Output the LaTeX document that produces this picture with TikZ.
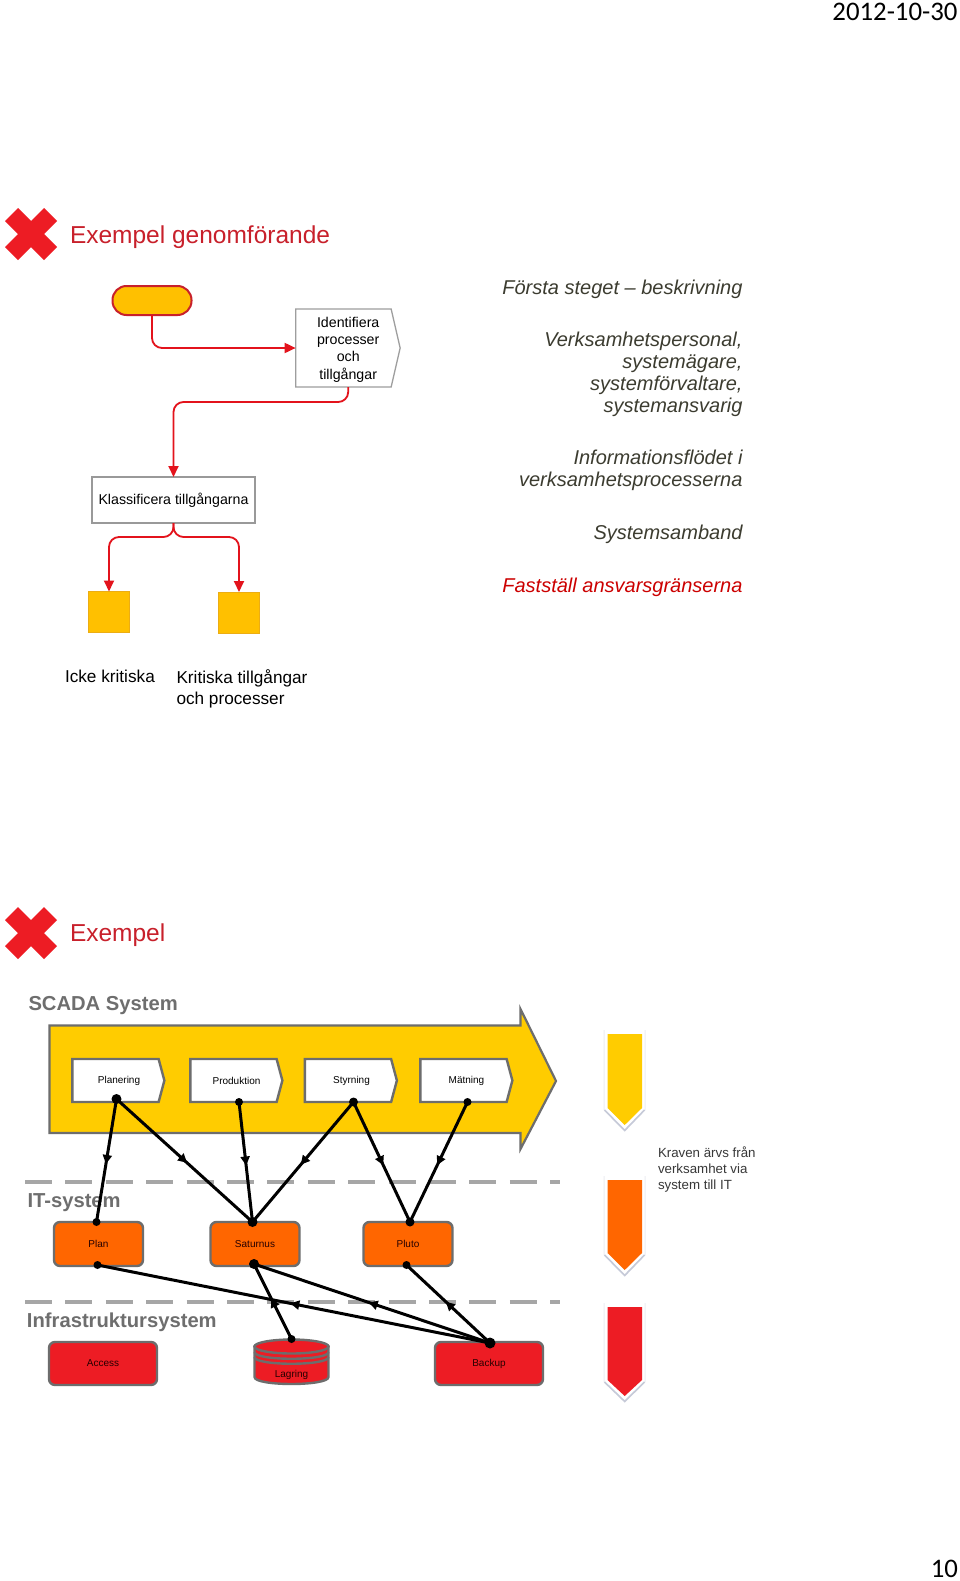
\documentclass[tikz,border=0pt]{standalone}
\usepackage{fontspec}
\setmainfont{Liberation Sans}
\newfontfamily\slidefont{Carlito}
\usetikzlibrary{arrows.meta,shapes.symbols,decorations.markings,calc}
\definecolor{redline}{HTML}{E3131C}
\definecolor{redtitle}{HTML}{C8202B}
\definecolor{gold}{HTML}{FFC000}
\definecolor{yell}{HTML}{FFCC00}
\definecolor{oran}{HTML}{FF6600}
\definecolor{redfill}{HTML}{ED1C24}
\definecolor{edgegray}{HTML}{6D6D6D}
\definecolor{olive}{HTML}{3C3C30}
\definecolor{headgray}{HTML}{6E6E6E}
\definecolor{dashgray}{HTML}{A6A6A6}
\definecolor{shadowc}{HTML}{C6CAD8}
\definecolor{glowc}{HTML}{ECEDF2}
\newcommand{\fs}[2]{\fontsize{#1}{#2}\selectfont}
\tikzset{
  txt/.style={inner sep=0pt,outer sep=0pt},
  title/.style={txt,anchor=base west,text=redtitle,font=\fs{24.5}{28}},
  rtxt/.style={txt,anchor=north east,align=right,text=olive,font=\fs{20}{22}\itshape},
  sect/.style={txt,anchor=base west,text=headgray,font=\fs{20.2}{24}\bfseries},
  blk/.style={txt,anchor=base west,text=black,font=\fs{17.2}{21},align=left},
  redconn/.style={draw=redline,line width=1.8pt,rounded corners=10pt,-{Triangle[length=11pt,width=10pt]}},
  pent/.style={shape=signal,signal to=east,signal from=nowhere,signal pointer angle=#1,inner sep=0pt,outer sep=0pt,align=center},
  procb/.style={pent=150,draw=edgegray,line width=2.4pt,fill=white,minimum width=92pt,minimum height=43pt},
  small/.style={txt,font=\fs{10}{12},text=black},
  smallred/.style={txt,font=\fs{10}{12},text=black!85!red},
  sysb/.style={draw=edgegray,line width=2.4pt,rounded corners=6pt,inner sep=0pt,outer sep=0pt,minimum height=44pt,font=\fs{10}{12},text=black!85!red},
  dotn/.style={circle,fill=black,inner sep=0pt,outer sep=0pt,minimum size=#1},
  dotn/.default=8pt,
  conn/.style={draw=black,line width=3pt,postaction={decorate},
    decoration={markings,mark=at position 0.5 with {\arrow[xshift=3.5pt]{Triangle[length=9pt,width=9pt]}}}},
  sepl/.style={draw=dashgray,line width=3.6pt,dash pattern=on 27pt off 13.4pt},
  sqbox/.style={draw=gold!70!brown,fill=gold,line width=.7pt,minimum width=40.5pt,minimum height=41pt,inner sep=0pt,outer sep=0pt},
}
\begin{document}
\begin{tikzpicture}[x=1pt,y=-1pt]
\useasboundingbox (0,0) rectangle (960,1581);
\fill[white] (0,0) rectangle (960,1581);
% header / footer
\node[txt,anchor=base east,font=\slidefont\fs{26.8}{30}] (date) at (957.5,21) {2012-10-30};
\node[txt,anchor=base east,font=\slidefont\fs{26.8}{30}] (page) at (958,1577) {10};
% X marks
\foreach \cy in {234,933}{
 \fill[redfill] (31,\cy) ++(0,-13) -- ++(13,-13) -- ++(13,13) -- ++(-13,13) -- ++(13,13) -- ++(-13,13) -- ++(-13,-13) -- ++(-13,13) -- ++(-13,-13) -- ++(13,-13) -- ++(-13,-13) -- ++(13,-13) -- cycle;
}
\node[title] (t1) at (70,243) {Exempel genomförande};
\node[title] (t2) at (70,941) {Exempel};
% upper flow
\node[draw=redtitle,fill=gold,line width=2pt,rounded corners=14pt,minimum width=79pt,minimum height=29pt,inner sep=0pt,outer sep=0pt] (start) at (152,300.5) {};
\node[pent=154,draw=black!38,line width=1.3pt,fill=white,minimum width=104.5pt,minimum height=78pt] (ident) at (343.4,348) {};
\node[txt,align=center,font=\fs{14.2}{17.3}] (identtxt) at (348.2,349.5) {Identifiera\\processer\\och\\tillgångar};
\node[draw=black!40,fill=white,line width=2pt,minimum width=163pt,minimum height=46pt,inner sep=0pt,outer sep=0pt,font=\fs{14.2}{17}] (klass) at (173.5,500) {Klassificera tillgångarna};
\node[sqbox] (sq1) at (109,612) {};
\node[sqbox] (sq2) at (239,612.5) {};
\draw[redconn] (start.south) |- (ident.west);
\draw[redconn] (identtxt.center |- ident.south) -- ++(0,15) -| (klass.north);
\draw[redconn] (klass.south) -- ++(0,14) -| (sq1.north);
\draw[redconn] (klass.south) -- ++(0,14) -| (sq2.north);
\node[blk] (ik) at (65,682) {Icke kritiska};
\node[blk,anchor=north west] (kt) at (176.5,669.5) {Kritiska tillgångar\\och processer};
% right column
\node[rtxt] (r1) at (742.5,280) {Första steget – beskrivning};
\node[rtxt] (r2) at (742.5,332) {Verksamhetspersonal,\\systemägare,\\systemförvaltare,\\systemansvarig};
\node[rtxt] (r3) at (742.5,450) {Informationsflödet i\\verksamhetsprocesserna};
\node[rtxt] (r4) at (742.5,525) {Systemsamband};
\node[rtxt,text=red!80!black] (r5) at (742.5,578) {Fastställ ansvarsgränserna};
% lower diagram
\node[sect] (h1) at (28.5,1010) {SCADA System};
\draw[sepl] (25,1182) -- (560,1182);
\draw[sepl] (25,1302) -- (560,1302);
\draw[draw=edgegray,fill=yell,line width=2.2pt,line join=miter] (49.5,1025.5) -- (520.5,1025.5) -- (520.5,1009) -- (556,1081) -- (520.5,1149) -- (520.5,1133) -- (49.5,1133) -- cycle;
\node[procb] (pa) at (115.5,1080.5) {};
\node[procb] (pb) at (233.5,1080.5) {};
\node[procb] (pc) at (348,1080.5) {};
\node[procb] (pd) at (463.5,1080.5) {};
\node[small] (pat) at (119,1081) {Planering};
\node[small] (pbt) at (236.5,1081) {Produktion};
\node[small] (pct) at (351.5,1081) {Styrning};
\node[small] (pdt) at (466.5,1081) {Mätning};
\node[sect] (h2) at (27.5,1207) {IT-system};
\node[sect] (h3) at (27,1327) {Infrastruktursystem};
\node[sysb,fill=oran,minimum width=89pt] (plan) at (98.5,1244) {Plan};
\node[sysb,fill=oran,minimum width=89pt] (sat) at (255,1244) {Saturnus};
\node[sysb,fill=oran,minimum width=89pt] (pluto) at (408,1244) {Pluto};
\node[sysb,fill=redfill,minimum width=108pt,minimum height=43pt] (acc) at (103,1363.5) {Access};
\node[sysb,fill=redfill,minimum width=108pt,minimum height=43pt] (back) at (489,1363.5) {Backup};
% storage drum
\draw[draw=edgegray,fill=redfill,line width=2.4pt] (254.5,1346.5) -- (254.5,1377) .. controls (254.5,1386.3) and (328.5,1386.3) .. (328.5,1377) -- (328.5,1346.5) -- cycle;
\foreach \yy in {1352,1357}{
 \draw[draw=edgegray,line width=2.4pt] (254.5,\yy) .. controls (254.5,\yy+9) and (328.5,\yy+9) .. (328.5,\yy);
}
\draw[draw=edgegray,fill=redfill,line width=2.4pt] (291.5,1346.5) ellipse[x radius=37,y radius=7];
\node[smallred] (lag) at (291.5,1375) {Lagring};
% endpoints
\node[dotn=10pt] (a1) at (116.5,1099) {};
\node[dotn] (a2) at (239,1102) {};
\node[dotn=9pt] (a3) at (353.5,1102) {};
\node[dotn] (a4) at (467.5,1102) {};
\node[dotn] (b1) at (96.5,1222) {};
\node[dotn=10pt] (b2) at (252.5,1222) {};
\node[dotn=9pt] (b3) at (410,1222) {};
\node[dotn] (c1) at (97.5,1265) {};
\node[dotn=10pt] (c2) at (254,1264) {};
\node[dotn] (c3) at (406.5,1265) {};
\node[dotn] (d1) at (291.5,1339) {};
\node[dotn=11pt] (d2) at (490,1343) {};
\draw[conn] (a1.center) -- (b1.center);
\draw[conn] (a1.center) -- (b2.center);
\draw[conn] (a2.center) -- (b2.center);
\draw[conn] (a3.center) -- (b2.center);
\draw[conn] (a3.center) -- (b3.center);
\draw[conn] (a4.center) -- (b3.center);
\draw[conn] (d2.center) -- (c1.center);
\draw[conn] (d2.center) -- (c2.center);
\draw[conn] (d2.center) -- (c3.center);
\draw[conn] (d1.center) -- (c2.center);
% side arrows
\foreach \top/\sh/\tip/\col in {1034/1108/1125/yell,1180/1253/1270/oran,1307/1380/1396/redfill}{
 \fill[glowc] (603.5,\top-4) -- (645.5,\top-4) -- (645.5,\sh+2) -- (624.7,\tip+5) -- (603.5,\sh+2) -- cycle;
 \fill[white] (604.5,\top-4) -- (644.5,\top-4) -- (644.5,\sh+1) -- (624.7,\tip+4) -- (604.5,\sh+1) -- cycle;
 \draw[shadowc,line width=1.6pt] (604.5,\sh+2) -- (624.7,\tip+5.5) -- (644.5,\sh+2);
 \fill[\col] (607.5,\top) -- (642,\top) -- (642,\sh) -- (624.7,\tip) -- (607.5,\sh) -- cycle;
}
\node[txt,anchor=north west,align=left,text=black!78,font=\fs{13.3}{16}] (kr) at (658,1147) {Kraven ärvs från\\verksamhet via\\system till IT};
\end{tikzpicture}
\end{document}
